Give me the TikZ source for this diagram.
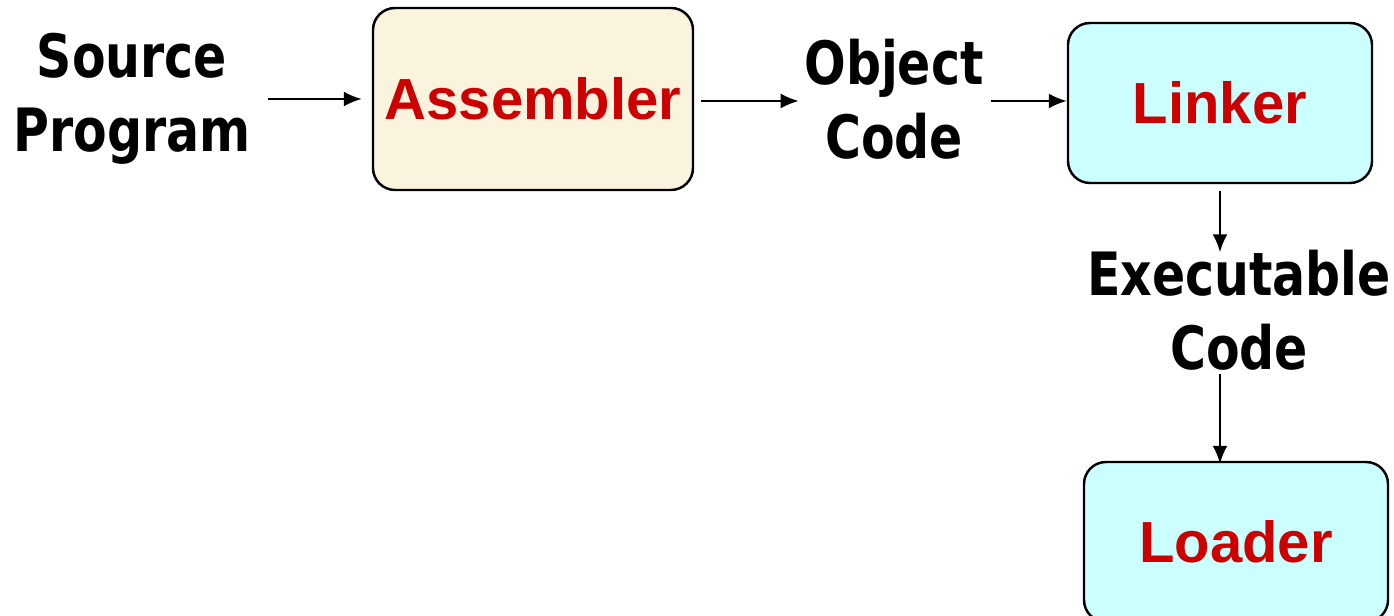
\documentclass[tikz,border=0pt]{standalone}
\usepackage{fontspec}
\newfontfamily\labelfont{DejaVu Sans}[FakeStretch=0.82]
\newfontfamily\boxfont{Liberation Sans}
\usetikzlibrary{arrows.meta}
\tikzset {>={Latex[length=1.8mm,width=1.5mm]}}

\definecolor{boxred}{HTML}{CC0000}
\definecolor{asmfill}{HTML}{FAF4DF}
\definecolor{linkfill}{HTML}{CCFFFF}

\tikzset{
  stage/.style={draw=black, line width=0.7pt, rounded corners=0.22cm,
    font=\boxfont\bfseries\fontsize{16.5}{20}\selectfont, text=boxred},
  label/.style={font=\labelfont\bfseries\fontsize{17}{21}\selectfont,
    align=center, inner sep=0pt},
  flow/.style={->, line width=0.6pt}
}

\begin{document}
\begin{tikzpicture}
\useasboundingbox (0,0) rectangle (13.94,-6.16);

% The three stages
\node [stage, fill=asmfill, minimum width=3.2cm, minimum height=1.82cm]
  (asm) at (5.33,-0.99) {Assembler};
\node [stage, fill=linkfill, minimum width=3.04cm, minimum height=1.6cm]
  (link) at (12.20,-1.03) {Linker};
\node [stage, fill=linkfill, minimum width=3.04cm, minimum height=1.6cm]
  (load) at (12.36,-5.42) {Loader};

% What goes in and comes out
\node [label] (src) at (1.32,-0.99) {Source\\Program};
\node [label] (obj) at (8.94,-0.99) {Object\\Code};
\node [label] (exe) at (12.39,-3.10) {Executable\\Code};

% Arrows between them
\draw [flow, shorten <=0.17cm, shorten >=0.1cm] (src.east) -- (asm.west);
\draw [flow, shorten <=0.07cm, shorten >=0.05cm] (asm.east |- 0,-1.01) -- (obj.west |- 0,-1.01);
\draw [flow, shorten <=0.07cm] (obj.east |- 0,-1.01) -- (link.west |- 0,-1.01);
\draw [flow, shorten <=0.07cm, shorten >=-0.03cm] (link.south) -- (link.south |- exe.north);
\draw [flow, shorten <=0.03cm, shorten >=-0.03cm] (link.south |- exe.south) -- (link.south |- load.north);
\end{tikzpicture}
\end{document}
